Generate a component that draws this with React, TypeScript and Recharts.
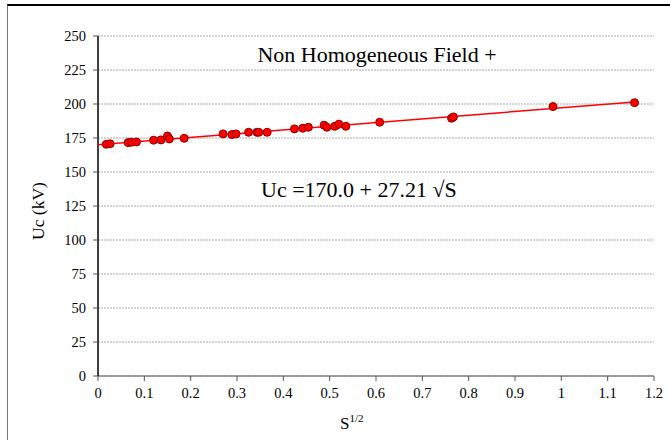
import React from 'react';
import { ScatterChart, Scatter, XAxis, YAxis, CartesianGrid, Customized } from 'recharts';

// measured points: S^1/2 vs breakdown voltage Uc (kV)
const sqrtS = [
  0.018, 0.026, 0.065, 0.072, 0.083, 0.12, 0.136, 0.15, 0.154, 0.186,
  0.27, 0.289, 0.298, 0.325, 0.343, 0.347, 0.365, 0.424, 0.442, 0.454,
  0.488, 0.494, 0.511, 0.52, 0.535, 0.608, 0.763, 0.767, 0.982, 1.158,
];
const ucKv = [
  170.4, 170.7, 171.6, 171.9, 172.1, 173.4, 173.6, 176.5, 174.3, 174.8,
  178.0, 177.5, 178.0, 179.2, 179.2, 179.2, 179.2, 181.7, 182.2, 182.9,
  184.4, 182.9, 183.6, 185.1, 183.6, 186.6, 189.5, 190.5, 198.1, 201.0,
];

// regression line end points (Uc = 170.0 + 27.21 sqrtS)
const fitX = [0, 1.158];
const fitY = [170.0, 201.5];

const xTicks = [0, 0.1, 0.2, 0.3, 0.4, 0.5, 0.6, 0.7, 0.8, 0.9, 1, 1.1, 1.2];
const yTicks = [0, 25, 50, 75, 100, 125, 150, 175, 200, 225, 250];

const points = sqrtS.map((x, i) => ({ x, y: ucKv[i] }));
const fit = fitX.map((x, i) => ({ x, y: fitY[i] }));

const serif = 'Liberation Serif';

const Dot = (props: any) => (
  <circle cx={props.cx} cy={props.cy} r={4} fill="#ff0000" stroke="#8b0000" strokeWidth={1} />
);

const Notes = () => (
  <g fill="#000">
    <text x={377} y={54} textAnchor="middle" dominantBaseline="central" style={{ fontFamily: serif, fontSize: 22 }}>
      Non Homogeneous Field +
    </text>
    <text x={261} y={189} dominantBaseline="central" style={{ fontFamily: serif, fontSize: 22 }}>
      Uc =170.0 + 27.21 √S
    </text>
    <text x={38} y={211} textAnchor="middle" dominantBaseline="central" style={{ fontFamily: serif, fontSize: 17.5 }}
      transform="rotate(-90 38 211)">
      Uc (kV)
    </text>
    <text x={340} y={429} style={{ fontFamily: serif, fontSize: 17 }}>
      S<tspan dy={-7} style={{ fontSize: 11 }}>1/2</tspan>
    </text>
  </g>
);

const tickStyle = { fill: '#000', fontSize: 14.5, fontFamily: serif };

export default function App() {
  return (
    <div style={{ position: 'absolute', left: 0, top: 0, width: 670, height: 440, overflow: 'hidden', background: '#fff' }}>
      <div style={{ position: 'absolute', left: 7, top: 4, width: 700, height: 500, borderTop: '2px solid #000', borderLeft: '1px solid #777' }} />
      <div style={{ position: 'absolute', left: 0, top: 0 }}>
        <ScatterChart width={670} height={440} margin={{ top: 36, right: 16, bottom: 0, left: 0 }}>
          <CartesianGrid horizontal vertical={false} stroke="#aaa" strokeDasharray="2 1" />
          <XAxis
            dataKey="x"
            type="number"
            domain={[0, 1.2]}
            ticks={xTicks}
            tickFormatter={(v) => String(v)}
            height={64}
            tickSize={5}
            tickMargin={7}
            stroke="#555"
            tick={tickStyle}
          />
          <YAxis
            dataKey="y"
            type="number"
            domain={[0, 250]}
            ticks={yTicks}
            width={98}
            tickSize={5}
            tickMargin={7}
            axisLine={{ stroke: '#000', strokeWidth: 1.5 }}
            tickLine={{ stroke: '#555' }}
            tick={tickStyle}
          />
          <Scatter data={fit} line={{ stroke: '#ff0000', strokeWidth: 1.5 }} shape={() => <g />} isAnimationActive={false} />
          <Scatter data={points} shape={Dot} isAnimationActive={false} />
          <Customized component={Notes} />
        </ScatterChart>
      </div>
    </div>
  );
}
